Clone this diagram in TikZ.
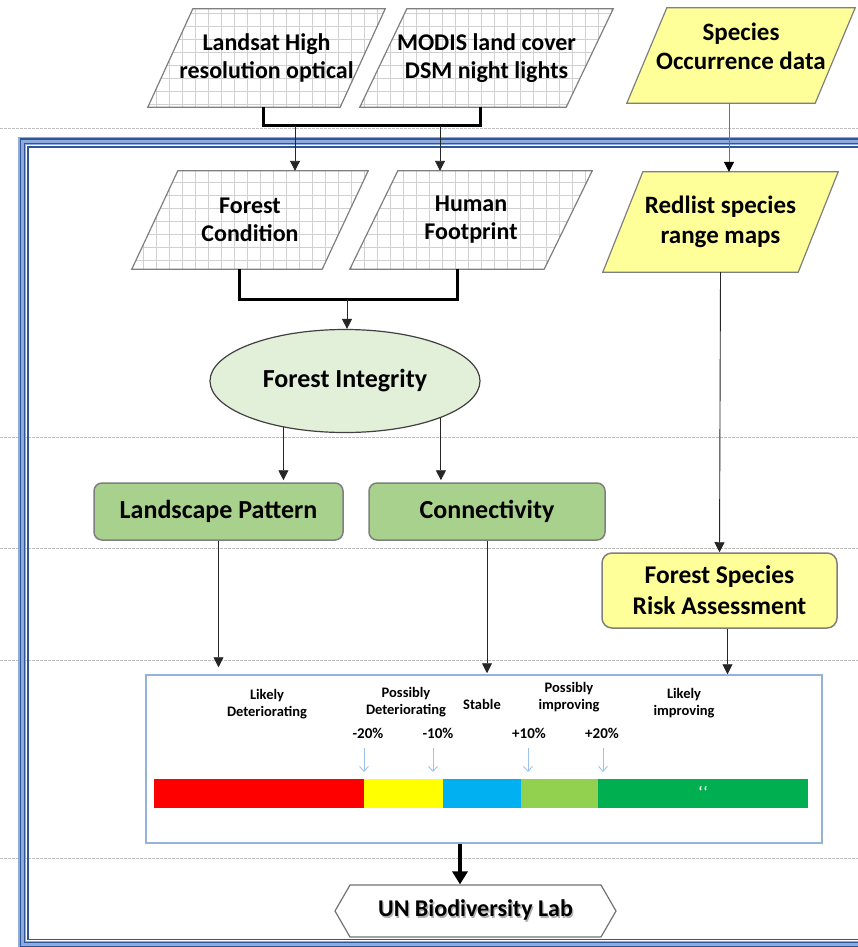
\documentclass[tikz,border=0pt]{standalone}
\usepackage{fontspec}
\setmainfont{Carlito}
\usetikzlibrary{shapes.geometric,shapes.symbols,arrows.meta,calc}
\definecolor{gridc}{HTML}{D0D0D0}
\definecolor{edgec}{HTML}{7F7F7F}
\definecolor{yel}{HTML}{FFFF99}
\definecolor{ellf}{HTML}{E2F0D9}
\definecolor{grn}{HTML}{A9D18E}
\definecolor{legb}{HTML}{95B3D7}
\definecolor{frameL}{HTML}{8FAADC}
\definecolor{frameD}{HTML}{2F5597}
\definecolor{tickc}{HTML}{9DC3E6}
\definecolor{barR}{HTML}{FF0000}
\definecolor{barY}{HTML}{FFFF00}
\definecolor{barB}{HTML}{00B0F0}
\definecolor{barLG}{HTML}{92D050}
\definecolor{barG}{HTML}{00B050}
\definecolor{dotc}{HTML}{BFBFBF}
\pgfdeclarelayer{bg}
\pgfsetlayers{bg,main}
\newcommand\parf{\bfseries\fontsize{24}{28}\selectfont}
\newcommand\yelf{\bfseries\fontsize{25}{30}\selectfont}
\newcommand\bigf{\bfseries\fontsize{26}{31}\selectfont}
\newcommand\smf{\bfseries\fontsize{14.5}{17.5}\selectfont}
\newcommand\shtext[1]{\makebox[0pt][l]{\raisebox{-1.3pt}{\hspace{1.3pt}\textcolor{black!30}{#1}}}#1}
% parallelogram behind a named rectangular node: name, horizontal offset, path style
\newcommand\paraback[3]{%
  \begin{pgfonlayer}{bg}
  \path[#3] ([xshift=#2]#1.north west) -- (#1.north east) -- ([xshift=-#2]#1.south east) -- (#1.south west) -- cycle;
  \end{pgfonlayer}}
\tikzset{
  ptext/.style={rectangle, inner sep=0pt, align=center, font=\parf},
  gridshape/.style={fill=white, draw=edgec, line width=1.2pt,
    path picture={\draw[gridc, line width=0.8pt, step=13pt]
    (path picture bounding box.south west) grid (path picture bounding box.north east);}},
  yshape/.style={fill=yel, draw=edgec, line width=1.2pt},
  gbox/.style={rectangle, rounded corners=8pt, draw=edgec, line width=1.5pt, fill=grn,
    inner sep=0pt, align=center, font=\bigf},
  ybox/.style={rectangle, rounded corners=10pt, draw=edgec, line width=1.5pt, fill=yel,
    inner sep=0pt, align=center, font=\bfseries\fontsize{25.5}{31}\selectfont},
  lt/.style={align=center, inner sep=0pt, font=\smf},
  arr/.style={-{Triangle[length=10pt,width=10pt]}, draw=black!85, line width=0.9pt},
  arrg/.style={-{Triangle[length=10pt,width=10pt,color=black]}, draw=black!55, line width=1pt},
  brk/.style={draw=black, line width=3pt},
  tk/.style={-{Straight Barb[length=5pt,width=9pt]}, draw=tickc, line width=0.9pt},
  dotl/.style={draw=dotc, line width=0.9pt, dash pattern=on 2.5pt off 1.5pt},
}
\begin{document}
\begin{tikzpicture}[x=1pt,y=-1pt]
\useasboundingbox (0,0) rectangle (858,947);
\begin{pgfonlayer}{bg}
\fill[white] (0,0) rectangle (858,947);
\begin{scope}
\clip (0,0) rectangle (858,947);
% dotted guide lines
\foreach \yy in {128,437,548,660,858} \draw[dotl] (0,\yy) -- (858,\yy);
% frame
\draw[frameL, line width=8pt] (900,141) -- (22,141) -- (22,944.5) -- (900,944.5);
\draw[frameD, line width=1.3pt] (900,139) -- (20.3,139) -- (20.3,946.5) -- (900,946.5);
\draw[frameD, line width=1.3pt] (900,143.3) -- (24.5,143.3) -- (24.5,942.3) -- (900,942.3);
\draw[frameD, line width=1.2pt] (900,147) -- (28,147) -- (28,939.5) -- (900,939.5);
\end{scope}
\end{pgfonlayer}

% input parallelograms
\node[ptext, minimum width=237pt, minimum height=98pt] (land) at (266.5,58) {Landsat High\\resolution optical};
\paraback{land}{45pt}{gridshape}
\node[ptext, minimum width=253pt, minimum height=98pt] (modis) at (486.5,58) {MODIS land cover\\DSM night lights};
\paraback{modis}{47pt}{gridshape}
\node[ptext, minimum width=236pt, minimum height=98pt] (fc) at (250,220) {Forest\\Condition};
\paraback{fc}{46pt}{gridshape}
\node[ptext, minimum width=242pt, minimum height=98pt] (hf) at (471,220) {Human\\Footprint};
\paraback{hf}{48pt}{gridshape}
\node[ptext, font=\yelf, minimum width=228pt, minimum height=95pt] (sp) at (741,55.5) {\raisebox{6.5pt}[\height][\depth]{\begin{tabular}{@{}c@{}}Species\\[-1pt]Occurrence data\end{tabular}}};
\paraback{sp}{40pt}{yshape}
\node[ptext, font=\yelf, minimum width=235pt, minimum height=100pt] (rl) at (720.5,222) {Redlist species\\range maps};
\paraback{rl}{40pt}{yshape}

% ellipse and boxes
\node[ellipse, draw=black!75, fill=ellf, line width=1.2pt, minimum width=270pt, minimum height=103pt, inner sep=0pt, font=\bigf] (fi) at (345,381) {Forest Integrity};
\node[gbox, minimum width=249pt, minimum height=57pt] (lp) at (218.5,511.5) {Landscape Pattern};
\node[gbox, minimum width=236pt, minimum height=57pt] (cn) at (487,511.5) {Connectivity};
\node[ybox, minimum width=235pt, minimum height=75pt] (risk) at (719.5,590.5) {Forest Species\\Risk Assessment};

% legend box
\node[draw=legb, line width=1.5pt, minimum width=676pt, minimum height=168pt, inner sep=0pt] (leg) at (484,759) {};
\fill[barR] (154,779) rectangle (364,808);
\fill[barY] (364,779) rectangle (443,808);
\fill[barB] (443,779) rectangle (521,808);
\fill[barLG] (521,779) rectangle (598,808);
\fill[barG] (598,779) rectangle (808,808);
\node[lt] (t1) at (267,704) {Likely\\Deteriorating};
\node[lt] (t2) at (406,702) {Possibly\\Deteriorating};
\node[lt] (t3) at (482,704) {Stable};
\node[lt] (t4) at (569,697) {Possibly\\improving};
\node[lt] (t5) at (684,703) {Likely\\improving};
\node[lt, font=\bfseries\fontsize{15}{18}\selectfont] (p1) at (368,733) {-20\%};
\node[lt, font=\bfseries\fontsize{15}{18}\selectfont] (p2) at (438,733) {-10\%};
\node[lt, font=\bfseries\fontsize{15}{18}\selectfont] (p3) at (529,733) {+10\%};
\node[lt, font=\bfseries\fontsize{15}{18}\selectfont] (p4) at (602,733) {+20\%};
\node[lt, text=white, font=\bfseries\fontsize{15}{15}\selectfont] (q) at (703,792) {\char"60\kern1pt\char"60};
\draw[tk] (364,748) -- (364,772);
\draw[tk] (433,748) -- (433,772);
\draw[tk] (528,748) -- (528,772);
\draw[tk] (603,748) -- (603,772);

% output hexagon
\node[signal, signal to=west and east, signal pointer angle=120, draw=black!55, line width=1.2pt, fill=white, minimum width=281pt, minimum height=52pt, inner sep=0pt, font=\bfseries\fontsize{24}{28}\selectfont] (un) at (475.5,911) {\shtext{UN Biodiversity Lab}};

% brackets and connectors
\coordinate (bA) at (263,126);
\coordinate (bB) at (480,126);
\coordinate (j1) at (295,126);
\coordinate (j2) at (440,126);
\draw[brk] (bA |- land.south) -- (bA) -- (bB) -- (bB |- modis.south);
\draw[arr] (j1) -- (j1 |- fc.north);
\draw[arr] (j2) -- (j2 |- hf.north);

\coordinate (cA) at (239,299);
\coordinate (cB) at (457,299);
\coordinate (j3) at (347,299);
\draw[brk] (cA |- fc.south) -- (cA) -- (cB) -- (cB |- hf.south);
\draw[arr] (j3) -- (j3 |- fi.north);

\draw[arr, shorten >=2pt] (fi.217.5) -- (fi.217.5 |- lp.north);
\draw[arr, shorten >=2pt] (fi.339.4) -- (fi.339.4 |- cn.north);
\draw[arr, shorten >=7pt] (lp.south) -- (lp.south |- leg.north);
\draw[arr, shorten >=1pt] (cn.south) -- (cn.south |- leg.north);

\draw[arrg] ([xshift=-12pt]sp.south) -- ([xshift=-12pt]sp.south |- rl.north);
\draw[arr] (rl.south) -- (risk.north);
\draw[arr] ([xshift=8pt]risk.south) -- ([xshift=8pt]risk.south |- leg.north);

\draw[-{Triangle[length=13pt,width=15pt]}, line width=4pt] ([xshift=-24pt]leg.south) -- ([xshift=-24pt]leg.south |- un.north);
\end{tikzpicture}
\end{document}
